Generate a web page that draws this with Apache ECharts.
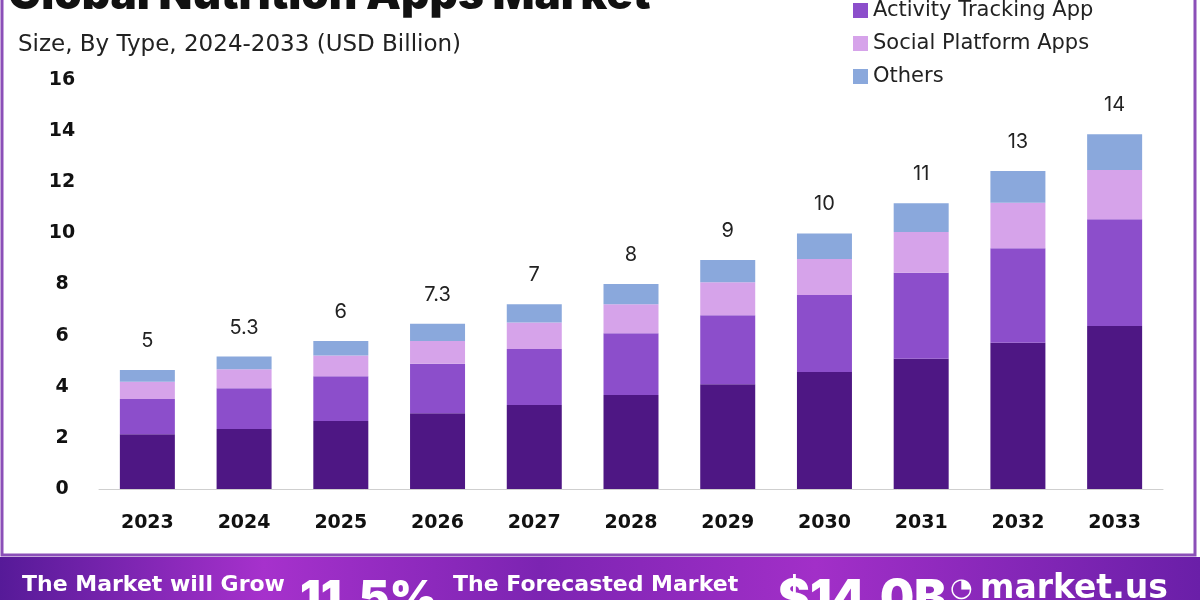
<!DOCTYPE html>
<html>
<head>
<meta charset="utf-8">
<script src="https://cdn.jsdelivr.net/npm/echarts@6/dist/echarts.min.js"></script>
<style>
html,body{margin:0;padding:0;background:#fff;}
#chart{width:1200px;height:600px;}
</style>
</head>
<body>
<div id="chart"></div>
<script>
var years = ['2023','2024','2025','2026','2027','2028','2029','2030','2031','2032','2033'];
var seriesNames = ['Diet and Nutrition Tracking App','Activity Tracking App','Social Platform Apps','Others'];
var diet     = [2.14,2.35,2.66,2.96,3.29,3.68,4.10,4.58,5.10,5.72,6.38];
var activity = [1.38,1.59,1.75,1.94,2.19,2.41,2.70,3.01,3.36,3.70,4.17];
var social   = [0.68,0.74,0.81,0.89,1.03,1.14,1.29,1.41,1.59,1.78,1.93];
var others   = [0.46,0.50,0.57,0.67,0.72,0.79,0.87,1.00,1.13,1.24,1.40];
var totalLabels = ['5','5.3','6','7.3','7','8','9','10','11','13','14'];
var yTicks = [0,2,4,6,8,10,12,14,16];

var colors = ['#4e1784','#8c4ecb','#d6a3ea','#8aa8dc'];
var FONT = 'Inter, "Open Sans", sans-serif';
var WIDE = '"DejaVu Sans", Inter, sans-serif';

var chart = echarts.init(document.getElementById('chart'), null, {renderer:'canvas'});

function mk(name, data, idx){
  var s = {
    name: name, type: 'bar', stack: 'total', data: data,
    barWidth: 55,
    itemStyle: {color: colors[idx]},
    emphasis: {disabled: true}
  };
  if (idx === 3) {
    s.label = {
      show: true, position: 'top', distance: 19,
      formatter: function(p){ return totalLabels[p.dataIndex]; },
      fontFamily: FONT, fontSize: 20, color: '#222', fontWeight: 'normal'
    };
  }
  return s;
}

var option = {
  backgroundColor: '#fff',
  animation: false,
  title: [
    {text: 'Global Nutrition Apps Market', left: 3, top: -31,
     textStyle: {fontFamily: FONT, fontSize: 44, fontWeight: 900, color: '#111'}},
    {text: 'Size, By Type, 2024-2033 (USD Billion)', left: 13, top: 29,
     textStyle: {fontFamily: WIDE, fontSize: 23, fontWeight: 'normal', color: '#222'}}
  ],
  legend: {
    orient: 'vertical', left: 848, top: -38,
    itemWidth: 15, itemHeight: 15, itemGap: 12,
    icon: 'rect',
    data: seriesNames,
    textStyle: {fontFamily: WIDE, fontSize: 21, color: '#222', lineHeight: 21}
  },
  grid: {left: 99, right: 37, top: 80, bottom: 111, containLabel: false},
  xAxis: {
    type: 'category', data: years,
    axisLine: {show: true, lineStyle: {color: '#cfcfcf', width: 1}},
    axisTick: {show: false},
    axisLabel: {margin: 25, fontFamily: WIDE, fontSize: 19, fontWeight: 'bold', color: '#111'}
  },
  yAxis: {
    type: 'value', min: yTicks[0], max: yTicks[yTicks.length-1], interval: 2,
    splitLine: {show: false},
    axisLine: {show: false}, axisTick: {show: false},
    axisLabel: {margin: 37, align: 'center', fontFamily: WIDE, fontSize: 19, fontWeight: 'bold', color: '#111'}
  },
  series: [mk(seriesNames[0], diet, 0), mk(seriesNames[1], activity, 1), mk(seriesNames[2], social, 2), mk(seriesNames[3], others, 3)],
  graphic: [
    {type: 'rect', silent: true, z: -1, shape: {x: 2, y: -10, width: 1193, height: 565},
     style: {fill: 'none', stroke: '#8b4fb8', lineWidth: 3}},
    {type: 'rect', silent: true, shape: {x: 0, y: 557, width: 1200, height: 43},
     style: {fill: new echarts.graphic.LinearGradient(0,0,1,0,[
       {offset: 0, color: '#561a98'},
       {offset: 0.22, color: '#a631cc'},
       {offset: 0.45, color: '#7c24b2'},
       {offset: 0.68, color: '#a22fc8'},
       {offset: 1, color: '#6a1fa8'}
     ])}},
    {type: 'text', silent: true, left: 22, top: 574,
     style: {text: 'The Market will Grow', fill: '#fff', font: 'bold 22px ' + WIDE}},
    {type: 'text', silent: true, left: 300, top: 576,
     style: {text: '11.5%', fill: '#fff', font: '900 46px ' + FONT}},
    {type: 'text', silent: true, left: 453, top: 574,
     style: {text: 'The Forecasted Market', fill: '#fff', font: 'bold 22px ' + WIDE}},
    {type: 'text', silent: true, left: 778, top: 576,
     style: {text: '$14.0B', fill: '#fff', font: '900 48px ' + FONT}},
    {type: 'text', silent: true, left: 950, top: 576,
     style: {text: '\u25D4', fill: '#fff', font: 'bold 26px ' + WIDE}},
    {type: 'text', silent: true, left: 980, top: 573,
     style: {text: 'market.us', fill: '#fff', font: 'bold 33px ' + WIDE}}
  ]
};
chart.setOption(option);
</script>
</body>
</html>
